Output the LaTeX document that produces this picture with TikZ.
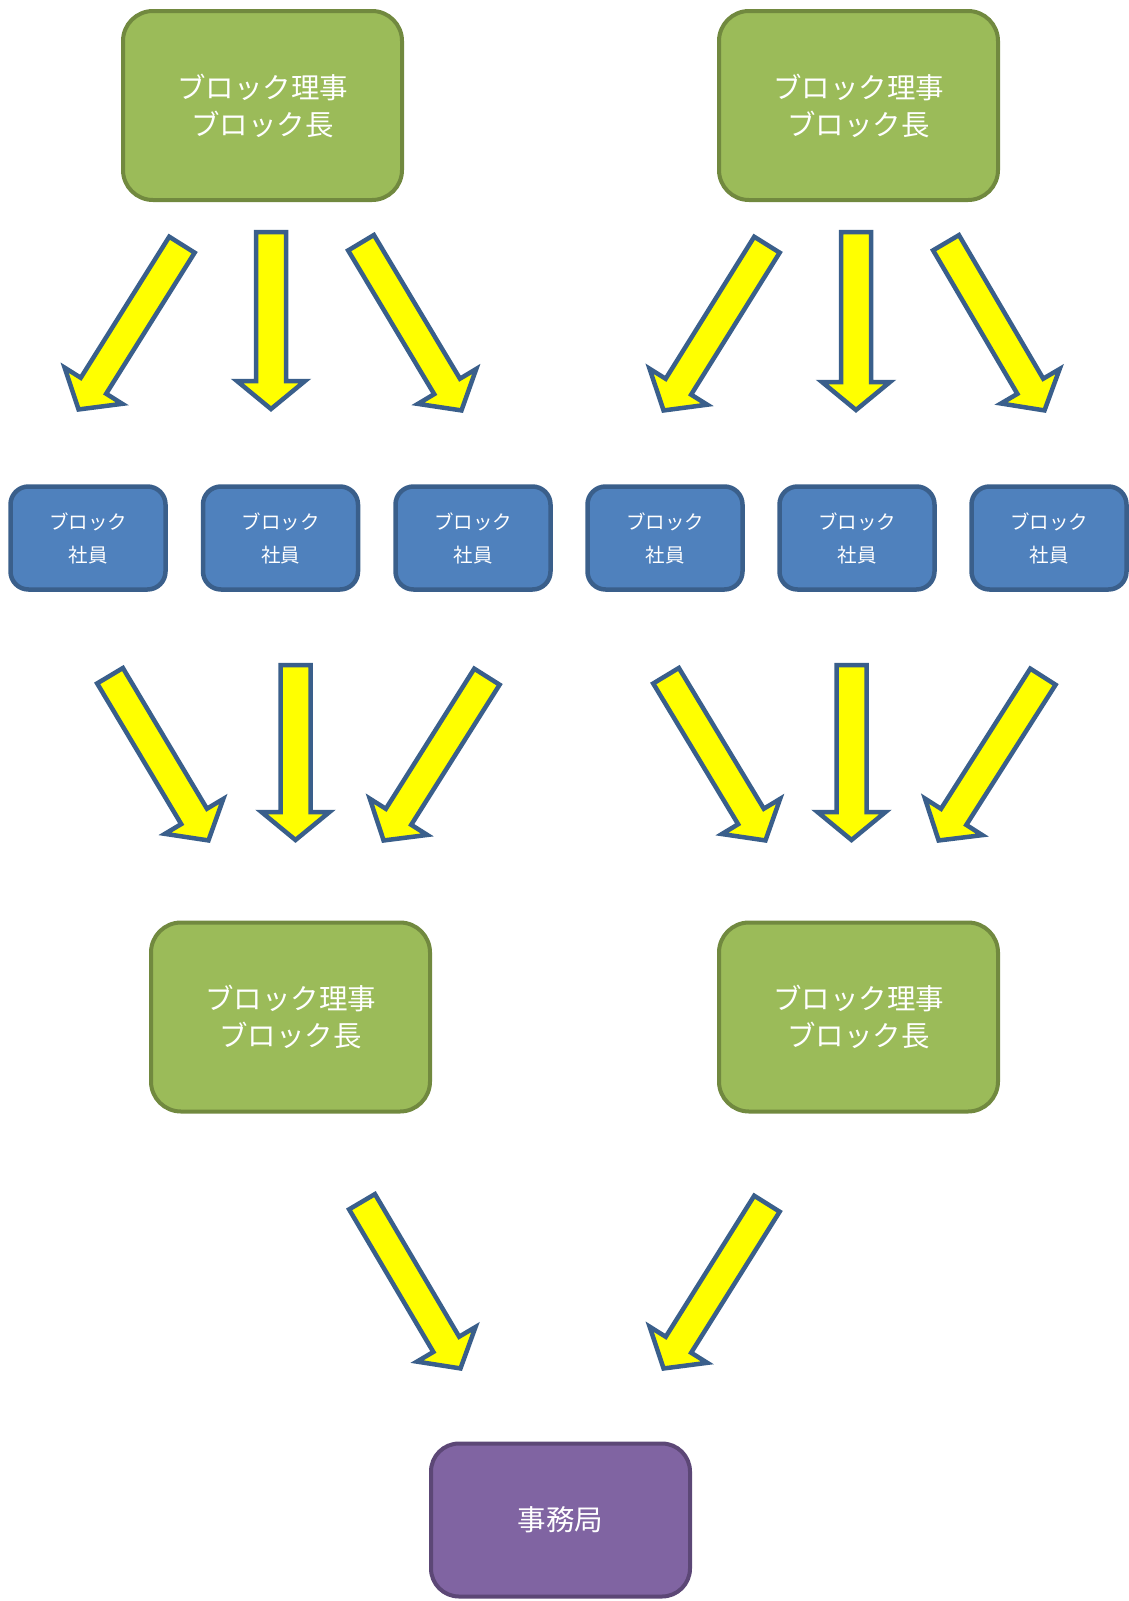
\documentclass[tikz,border=0pt]{standalone}
\usepackage{fontspec}
\newfontfamily\jpfont{Noto Sans CJK JP}
\usepackage{tikz}
\usetikzlibrary{calc}

\definecolor{rijiFill}{HTML}{9BBB59}
\definecolor{rijiLine}{HTML}{71893F}
\definecolor{shainFill}{HTML}{4F81BD}
\definecolor{shainLine}{HTML}{3A5F8B}
\definecolor{jimuFill}{HTML}{8064A2}
\definecolor{jimuLine}{HTML}{5C4776}
\definecolor{arrowFill}{RGB}{255,255,0}

\begin{document}
\begin{tikzpicture}[x=1pt,y=-1pt,line join=miter,
  riji/.style={draw=rijiLine,fill=rijiFill,line width=4pt,rounded corners=30pt,
    minimum width=279pt,minimum height=189pt,align=center,text=white,
    font=\jpfont\fontsize{28.5}{37}\selectfont},
  shain/.style={draw=shainLine,fill=shainFill,line width=4.5pt,rounded corners=18pt,
    minimum width=155pt,minimum height=103pt,align=center,text=white,
    font=\jpfont\fontsize{19.5}{33}\selectfont},
  jimu/.style={draw=jimuLine,fill=jimuFill,line width=4pt,rounded corners=28pt,
    minimum width=259pt,minimum height=153pt,align=center,text=white,
    font=\jpfont\fontsize{28.5}{33}\selectfont},
  fatarrow/.style={draw=shainLine,fill=arrowFill,line width=4.5pt,line join=miter},
]
\useasboundingbox (0,0) rectangle (1128,1601);
%%
\node (riji_1) at (262.5,105.5) [riji] {ブロック理事\\ブロック長};
  \node (riji_2) at (858.5,105.5) [riji] {ブロック理事\\ブロック長};
%
\node (shain_1) at (88,538) [shain] {ブロック\\社員};
  \node (shain_2) at (280.5,538) [shain] {ブロック\\社員};
  \node (shain_3) at (473,538) [shain] {ブロック\\社員};
  \node (shain_4) at (665,538) [shain] {ブロック\\社員};
  \node (shain_5) at (857,538) [shain] {ブロック\\社員};
  \node (shain_6) at (1049,538) [shain] {ブロック\\社員};
%
\node (riji_3) at (290.5,1017) [riji] {ブロック理事\\ブロック長};
  \node (riji_4) at (858.5,1017) [riji] {ブロック理事\\ブロック長};
%
\node (jimu) at (560.5,1520) [jimu] {事務局};
%% arrow ends
\coordinate (ar_1_s) at (183,243);    \coordinate (ar_1_e) at (77,412);
  \coordinate (ar_2_s) at (271,230);    \coordinate (ar_2_e) at (271,412);
  \coordinate (ar_3_s) at (360,241);    \coordinate (ar_3_e) at (463,413);
  \coordinate (ar_4_s) at (768,243);    \coordinate (ar_4_e) at (662,413);
  \coordinate (ar_5_s) at (856,230);    \coordinate (ar_5_e) at (856,413);
  \coordinate (ar_6_s) at (945,241);    \coordinate (ar_6_e) at (1046,413);
  \coordinate (ar_7_s) at (109,674);    \coordinate (ar_7_e) at (210,843);
  \coordinate (ar_8_s) at (295.5,663);  \coordinate (ar_8_e) at (295.5,843);
  \coordinate (ar_9_s) at (488,675);    \coordinate (ar_9_e) at (382,843);
  \coordinate (ar_10_s) at (665,674);   \coordinate (ar_10_e) at (767,843);
  \coordinate (ar_11_s) at (851.5,663); \coordinate (ar_11_e) at (851.5,843);
  \coordinate (ar_12_s) at (1044,675);  \coordinate (ar_12_e) at (937,843);
  \coordinate (ar_13_s) at (361,1200);  \coordinate (ar_13_e) at (462,1371);
  \coordinate (ar_14_s) at (768,1202);  \coordinate (ar_14_e) at (662,1371);
%
\foreach \i in {1,...,14} {
  \coordinate (T) at ($(ar_\i_s)!2pt!(ar_\i_e)$);
  \coordinate (P) at ($(ar_\i_e)!3pt!(ar_\i_s)$);
  \coordinate (H) at ($(P)!28pt!(T)$);
  \draw [fatarrow] ($(T)!15pt!90:(P)$) -- ($(H)!15pt!90:(P)$) -- ($(H)!34pt!90:(P)$) -- (P)
    -- ($(H)!34pt!-90:(P)$) -- ($(H)!15pt!-90:(P)$) -- ($(T)!15pt!-90:(P)$) -- cycle;
}
%
\end{tikzpicture}
\end{document}
